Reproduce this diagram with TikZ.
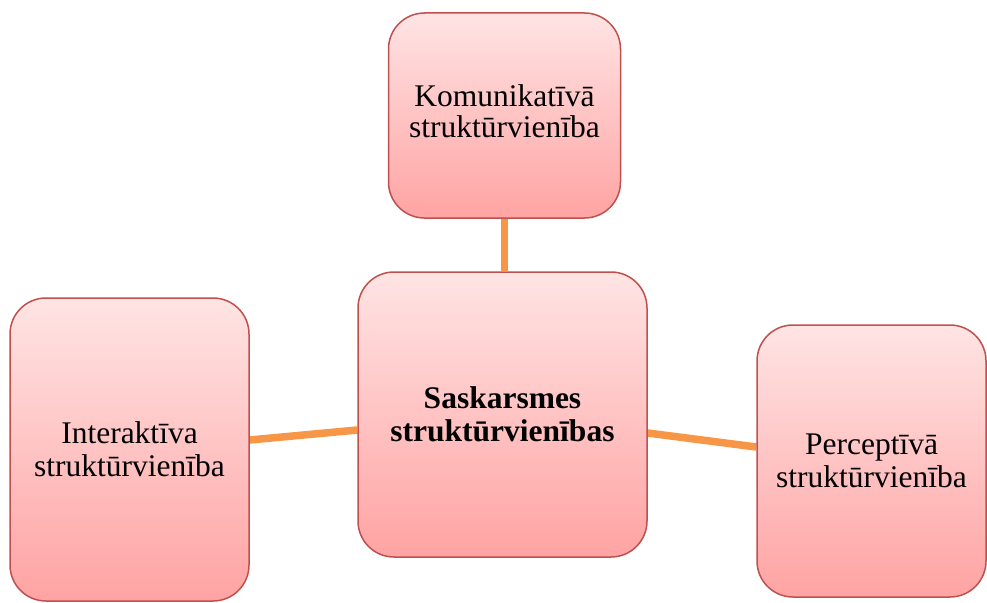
\documentclass[tikz,border=0pt]{standalone}
\usepackage{fontspec}
\setmainfont{Liberation Serif}
\usetikzlibrary{calc,backgrounds}
\definecolor{boxtop}{RGB}{255,228,228}
\definecolor{boxbot}{RGB}{255,163,163}
\definecolor{boxline}{RGB}{192,80,77}
\definecolor{conn}{RGB}{247,150,70}
\tikzset{
  unitbox/.style={draw=boxline, line width=1.5pt, rounded corners=36pt,
    top color=boxtop, bottom color=boxbot, align=center,
    font=\fontsize{31.5}{33}\selectfont, inner sep=0pt},
  link/.style={draw=conn, line width=7.5pt}
}
\begin{document}
\begin{tikzpicture}[x=1pt,y=-1pt]
\useasboundingbox (0,0) rectangle (987,602);
\node[unitbox, minimum width=232pt, minimum height=205pt] (kom) at (504.5,115.5) {\raisebox{-4pt}{\begin{tabular}{@{}c@{}}Komunikatīvā\\[-2pt]struktūrvienība\end{tabular}}};
\node[unitbox, minimum width=289pt, minimum height=285pt] (sas) at (502.5,414.5) {\bfseries Saskarsmes\\\bfseries struktūrvienības};
\node[unitbox, minimum width=239pt, minimum height=303pt] (int) at (129.5,449.5) {Interaktīva\\struktūrvienība};
\node[unitbox, minimum width=229pt, minimum height=272pt] (per) at (871.5,461) {Perceptīvā\\struktūrvienība};
\begin{pgfonlayer}{background}
\draw[link] (kom.south) -- (kom.south |- sas.north);
\draw[link] ($(int.east)+(0,-9.5)$) -- ($(sas.west)+(0,15.5)$);
\draw[link] ($(sas.east)+(0,18.5)$) -- ($(per.west)+(0,-14)$);
\end{pgfonlayer}
\end{tikzpicture}
\end{document}
